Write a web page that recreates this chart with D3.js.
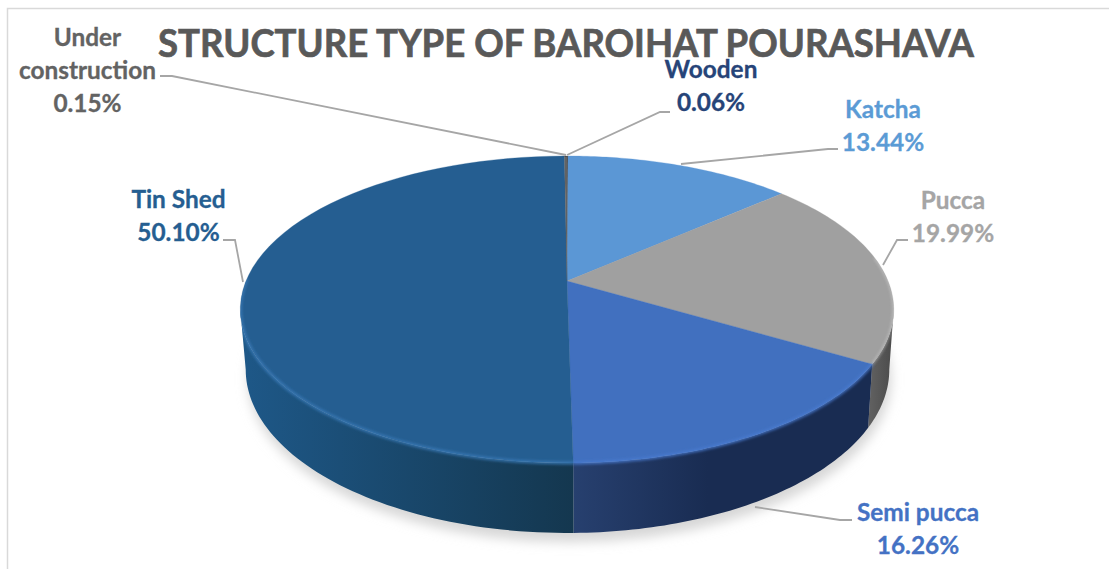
<!DOCTYPE html>
<html><head><meta charset="utf-8">
<script src="https://cdn.jsdelivr.net/npm/d3@7"></script>
<style>html,body{margin:0;padding:0;background:#fff}svg{display:block}text{font-family:Lato,"Open Sans",sans-serif;font-weight:700}</style>
</head><body><svg id="c" width="1109" height="569"></svg>
<script>
const title = "STRUCTURE TYPE OF BAROIHAT POURASHAVA";
const categories = ["Wooden","Katcha","Pucca","Semi pucca","Tin Shed","Under construction"];
const values = [0.06,13.44,19.99,16.26,50.10,0.15];
const valueLabels = ["0.06%","13.44%","19.99%","16.26%","50.10%","0.15%"];
const faceColors = ["#4d4d4d","#5b97d5","#a0a0a0","#4170bf","#255e91","#636363"];
const wallFrom = ["#333333","#3c6a96","#626262","#27406f","#1e5888","#444444"];
const wallTo = ["#333333","#3c6a96","#4a4a4a","#192c52","#14374f","#444444"];
const labelColors = ["#264478","#5b9bd5","#a5a5a5","#4472c4","#255e91","#636363"];
const labelLines = [["Wooden"],["Katcha"],["Pucca"],["Semi pucca"],["Tin Shed"],["Under","construction"]];
const labelX = [711,883,953,918,178.5,87.5];
const labelY = [78,118,209,521,208,46];
const leaders = [
 [[567,155],[660,112],[670,112]],
 [[681,164],[828,149],[838,149]],
 [[883,265],[897,240],[908,240]],
 [[755,507],[840,520],[852,520]],
 [[243,282],[235,240],[223,240]],
 [[566,155],[172,76],[160,76]]
];
const svg = d3.select("#c");
const defs = svg.append("defs");
defs.append("filter").attr("id","sh").attr("x","-20%").attr("y","-20%").attr("width","140%").attr("height","140%").append("feGaussianBlur").attr("stdDeviation",6);
defs.append("filter").attr("id","b2").attr("x","-20%").attr("y","-20%").attr("width","140%").attr("height","140%").append("feGaussianBlur").attr("stdDeviation",1.6);
svg.append("rect").attr("x",7.5).attr("y",8.5).attr("width",1120).attr("height",600).attr("fill","#fff").attr("stroke","#d9d9d9").attr("stroke-width",1.5);

const pieGen = d3.pie().sort(null).value(d=>d).startAngle(0).endAngle(2*Math.PI);
const arcs = pieGen(values);
// perspective disc: unit-circle coordinates to the screen
const cx=567, apexY=281, R=321, A=148.2, c=0.1857;
const topPt = a => { const u=Math.sin(a), v=-Math.cos(a), w=1-c*v; return [cx+R*u/w, apexY+A*v/w]; };
const basePt = a => { const p=topPt(a); return [cx+0.5+(p[0]-cx)*0.985, p[1]+60+(p[1]-309.5)*0.065]; };
const samples = (a0,a1) => d3.range(0,61).map(i=>a0+(a1-a0)*i/60);
const line = d3.line();
const whole = [0,2*Math.PI];
// shadow
svg.append("path").attr("d",line(samples(...whole).map(basePt).map(p=>[p[0]+2,p[1]+9]))+"Z").attr("fill","#d6d6d6").attr("filter","url(#sh)");
// walls between the two widest points of the disc
const tilt = Math.asin(c);
const frontA0 = Math.PI/2+tilt, frontA1 = 3*Math.PI/2-tilt;
const clip = defs.append("clipPath").attr("id","disc");
clip.append("path").attr("d",line(samples(...whole).map(topPt))+"Z");
clip.append("path").attr("d",line(samples(frontA0,frontA1).map(topPt).concat(samples(frontA0,frontA1).map(basePt).reverse()))+"Z");
arcs.forEach((d,i)=>{
  const a0=Math.max(d.startAngle,frontA0), a1=Math.min(d.endAngle,frontA1);
  if(a1<=a0) return;
  const pts=samples(a0,a1);
  const t=pts.map(topPt), b=pts.map(basePt).reverse();
  const xs=t.concat(b).map(p=>p[0]);
  const id="w"+i;
  const g=defs.append("linearGradient").attr("id",id).attr("gradientUnits","userSpaceOnUse")
    .attr("x1",d3.min(xs)).attr("x2",d3.max(xs)).attr("y1",0).attr("y2",0);
  g.append("stop").attr("offset",0).attr("stop-color",wallFrom[i]);
  g.append("stop").attr("offset",i===3?0.45:1).attr("stop-color",wallTo[i]);
  svg.append("path").attr("d",line(t.concat(b))+"Z").attr("fill",`url(#${id})`);
});
// top faces
arcs.forEach((d,i)=>{
  const pts=[[cx,apexY]].concat(samples(d.startAngle,d.endAngle).map(topPt));
  svg.append("path").attr("d",line(pts)+"Z").attr("fill",faceColors[i]).attr("stroke",faceColors[i]).attr("stroke-width",0.3);
});
// bevel rim on the front of the face, kept inside the disc silhouette
const rimLayer = svg.append("g").attr("clip-path","url(#disc)");
const rim = g => g.attr("fill","none").attr("filter","url(#b2)");
arcs.forEach((d,i)=>{
  const a0=Math.max(d.startAngle,frontA0-0.35), a1=Math.min(d.endAngle,frontA1+0.2);
  if(a1<=a0) return;
  const rimLine=line(samples(a0,a1).map(topPt));
  if(i===2) rimLayer.append("path").attr("d",rimLine).call(rim).attr("stroke","#e0e0e0").attr("stroke-width",1.5).attr("opacity",.7);
  if(i===4) rimLayer.append("path").attr("d",rimLine).call(rim).attr("stroke","#3a7cba").attr("stroke-width",2.5);
  if(i===3) rimLayer.append("path").attr("d",rimLine).call(rim).attr("stroke","#4a7cd2").attr("stroke-width",2.5);
});
// leaders
leaders.forEach(l=>svg.append("path").attr("d",line(l)).attr("fill","none").attr("stroke","#a6a6a6").attr("stroke-width",1.8));
// labels
categories.forEach((cat,i)=>{
  const t=svg.append("text").attr("text-anchor","middle").attr("fill",labelColors[i]).attr("stroke",labelColors[i]).attr("stroke-width",0.3).attr("font-size",24.4);
  labelLines[i].concat([valueLabels[i]]).forEach((r,j)=>t.append("tspan").attr("x",labelX[i]).attr("y",labelY[i]+j*33).text(r));
});
svg.append("text").attr("x",566).attr("y",57).attr("text-anchor","middle").attr("fill","#595959").attr("stroke","#595959").attr("stroke-width",0.7).attr("font-size",38).attr("textLength",816).attr("lengthAdjust","spacingAndGlyphs").text(title);
</script></body></html>
